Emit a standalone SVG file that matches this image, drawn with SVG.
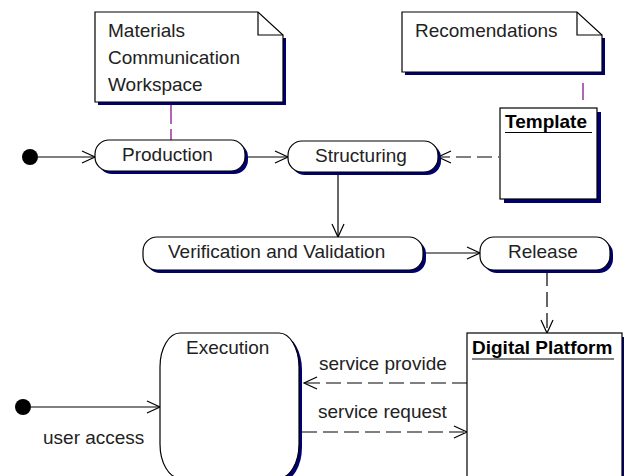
<svg xmlns="http://www.w3.org/2000/svg" width="624" height="476" viewBox="0 0 624 476">
<defs>
<style>
text{font-family:"Liberation Sans",Arial,sans-serif;font-size:19px;fill:#222}
.b{font-weight:bold;fill:#000}
.sh{fill:#000070}
.box{fill:#fff;stroke:#000;stroke-width:1.2}
.ln{fill:none;stroke:#000;stroke-width:1.2}
.ds{fill:none;stroke:#000;stroke-width:1.2;stroke-dasharray:15 6}
.an{fill:none;stroke:#800080;stroke-width:1.2}
</style>
<marker id="ah" markerUnits="userSpaceOnUse" markerWidth="16" markerHeight="16" viewBox="0 0 16 16" refX="14" refY="8" orient="auto">
<path d="M1,2 L14,8 L1,14" fill="none" stroke="#000" stroke-width="1.2"/>
</marker>
</defs>
<rect width="624" height="476" fill="#fff"/>

<g id="connectors">
<line class="an" x1="171" y1="102" x2="171" y2="140" stroke-dasharray="22 5"/>
<line class="an" x1="583" y1="72" x2="583" y2="108" stroke-dasharray="0 11 17 20"/>
<line class="ln" x1="38" y1="157" x2="95" y2="157" marker-end="url(#ah)"/>
<line class="ln" x1="245" y1="157" x2="288" y2="157" marker-end="url(#ah)"/>
<line class="ds" x1="499" y1="157" x2="438" y2="157" stroke-dasharray="20 8" stroke-dashoffset="-7" marker-end="url(#ah)"/>
<line class="ln" x1="338" y1="173" x2="338" y2="237" marker-end="url(#ah)"/>
<line class="ln" x1="423" y1="253" x2="480" y2="253" marker-end="url(#ah)"/>
<line class="ds" x1="547" y1="271" x2="547" y2="333" marker-end="url(#ah)"/>
<line class="ds" x1="467" y1="383" x2="304" y2="383" marker-end="url(#ah)"/>
<line class="ds" x1="302" y1="432" x2="467" y2="432" marker-end="url(#ah)"/>
<line class="ln" x1="31" y1="407" x2="160" y2="407" marker-end="url(#ah)"/>
</g>

<g id="start1"><circle cx="30" cy="157" r="8" fill="#000"/></g>
<g id="start2"><circle cx="23" cy="407" r="8" fill="#000"/></g>

<g id="note1">
<path class="sh" d="M98,38 H286 V105 H98 Z"/>
<path class="box" d="M95,12 H258 L283,35 V102 H95 Z"/>
<path class="ln" d="M258,12 V35 H283"/>
<text x="108" y="37">Materials</text>
<text x="108" y="64">Communication</text>
<text x="108" y="91">Workspace</text>
</g>

<g id="note2">
<path class="sh" d="M405,38 H605 V75 H405 Z"/>
<path class="box" d="M402,12 H577 L602,35 V72 H402 Z"/>
<path class="ln" d="M577,12 V35 H602"/>
<text x="415" y="37">Recomendations</text>
</g>

<g id="production">
<rect class="sh" x="98" y="143" width="150" height="31" rx="14"/>
<rect class="box" x="95" y="140" width="150" height="31" rx="14"/>
<text x="122" y="161">Production</text>
</g>

<g id="structuring">
<rect class="sh" x="291" y="144" width="150" height="31" rx="14"/>
<rect class="box" x="288" y="141" width="150" height="31" rx="14"/>
<text x="315" y="162">Structuring</text>
</g>

<g id="template">
<rect class="sh" x="504" y="112" width="97" height="91"/>
<rect class="box" x="500" y="108" width="97" height="91"/>
<text class="b" x="505" y="128">Template</text>
<line class="ln" x1="505" y1="132.5" x2="592" y2="132.5"/>
</g>

<g id="verification">
<rect class="sh" x="146" y="240" width="280" height="33" rx="14"/>
<rect class="box" x="143" y="237" width="280" height="33" rx="14"/>
<text x="168" y="258">Verification and Validation</text>
</g>

<g id="release">
<rect class="sh" x="483" y="240" width="130" height="33" rx="14"/>
<rect class="box" x="480" y="237" width="130" height="33" rx="14"/>
<text x="508" y="258">Release</text>
</g>

<g id="execution">
<rect class="sh" x="163" y="336" width="139" height="145" rx="20" ry="34"/>
<rect class="box" x="160" y="333" width="139" height="145" rx="20" ry="34"/>
<text x="186" y="354">Execution</text>
</g>

<g id="platform">
<rect class="sh" x="471" y="337" width="156" height="145"/>
<rect class="box" x="467" y="333" width="155" height="145"/>
<text class="b" x="472" y="354">Digital Platform</text>
<line class="ln" x1="472" y1="359" x2="614" y2="359"/>
</g>

<g id="labels">
<text x="319" y="370">service provide</text>
<text x="318" y="418">service request</text>
<text x="43" y="444">user access</text>
</g>
</svg>
